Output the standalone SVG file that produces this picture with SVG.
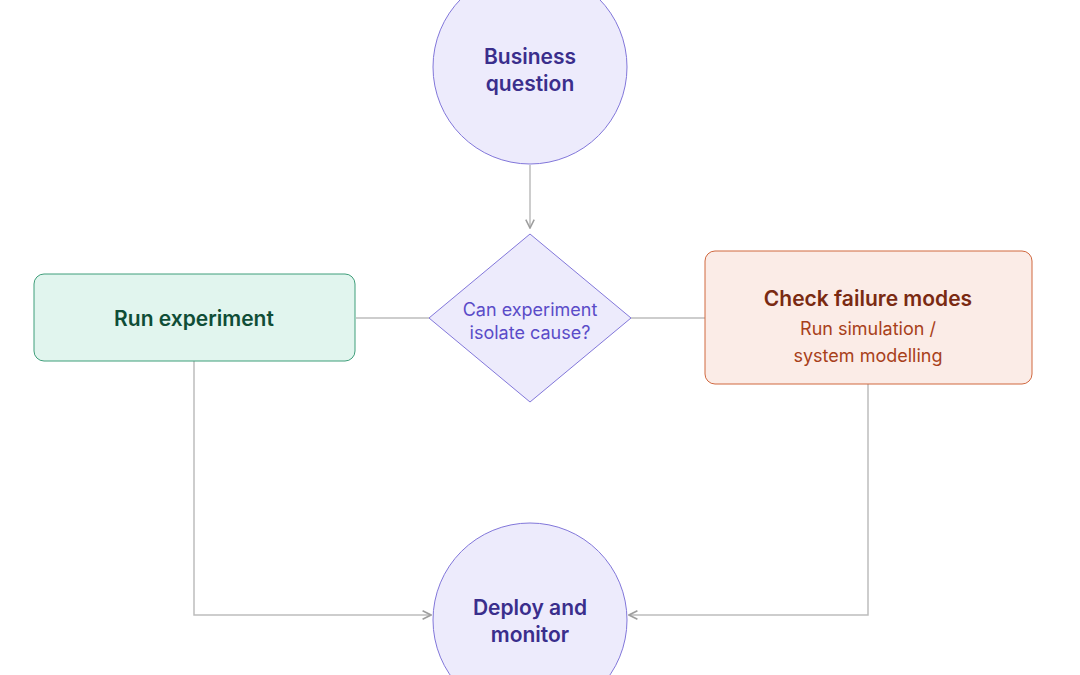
<svg xmlns="http://www.w3.org/2000/svg" width="1080" height="675" viewBox="0 0 1080 675">
<style>
.c{fill:#EDEBFC;stroke:#8277DA;stroke-width:1}
.t{font-family:Inter,"Liberation Sans",sans-serif;text-anchor:middle}
.e{fill:none;stroke:#BDBDBD;stroke-width:1.5}
</style>
<defs><marker id="a" viewBox="0 0 10 10" refX="9" refY="5" markerWidth="7" markerHeight="7" orient="auto"><path d="M1 1L9 5L1 9" fill="none" stroke="#9E9E9E" stroke-width="1.5"/></marker></defs>
<rect width="1080" height="675" fill="#fff"/>
<g id="connectors">
<path class="e" d="M530 165V228" marker-end="url(#a)"/>
<path class="e" d="M356 318H429"/>
<path class="e" d="M631 318H705"/>
<path class="e" d="M194 361V615H431" marker-end="url(#a)"/>
<path class="e" d="M868 384V615H629" marker-end="url(#a)"/>
</g>
<g id="business"><circle class="c" cx="530" cy="67" r="97"/><text class="t" x="530" y="64" font-size="21" font-weight="600" fill="#3A2E8C">Business</text><text class="t" x="530" y="91" font-size="21" font-weight="600" fill="#3A2E8C">question</text></g>
<g id="decision"><path class="c" d="M530 234L631 318L530 402L429 318Z"/><text class="t" x="530" y="316" font-size="18" fill="#5A4BC8">Can experiment</text><text class="t" x="530" y="339" font-size="18" fill="#5A4BC8">isolate cause?</text></g>
<g id="run"><rect x="34" y="274" width="321" height="87" rx="10" fill="#E1F5EE" stroke="#3F9E7A"/><text class="t" x="194" y="326" font-size="21" font-weight="600" fill="#0F4D36">Run experiment</text></g>
<g id="check"><rect x="705" y="251" width="327" height="133" rx="10" fill="#FBECE7" stroke="#D0683F"/><text class="t" x="868" y="306" font-size="21" font-weight="600" fill="#7A2A12">Check failure modes</text><text class="t" x="868" y="335" font-size="18" fill="#A8401A">Run simulation /</text><text class="t" x="868" y="362" font-size="18" fill="#A8401A">system modelling</text></g>
<g id="deploy"><circle class="c" cx="530" cy="620" r="97"/><text class="t" x="530" y="615" font-size="21" font-weight="600" fill="#3A2E8C">Deploy and</text><text class="t" x="530" y="642" font-size="21" font-weight="600" fill="#3A2E8C">monitor</text></g>
</svg>
